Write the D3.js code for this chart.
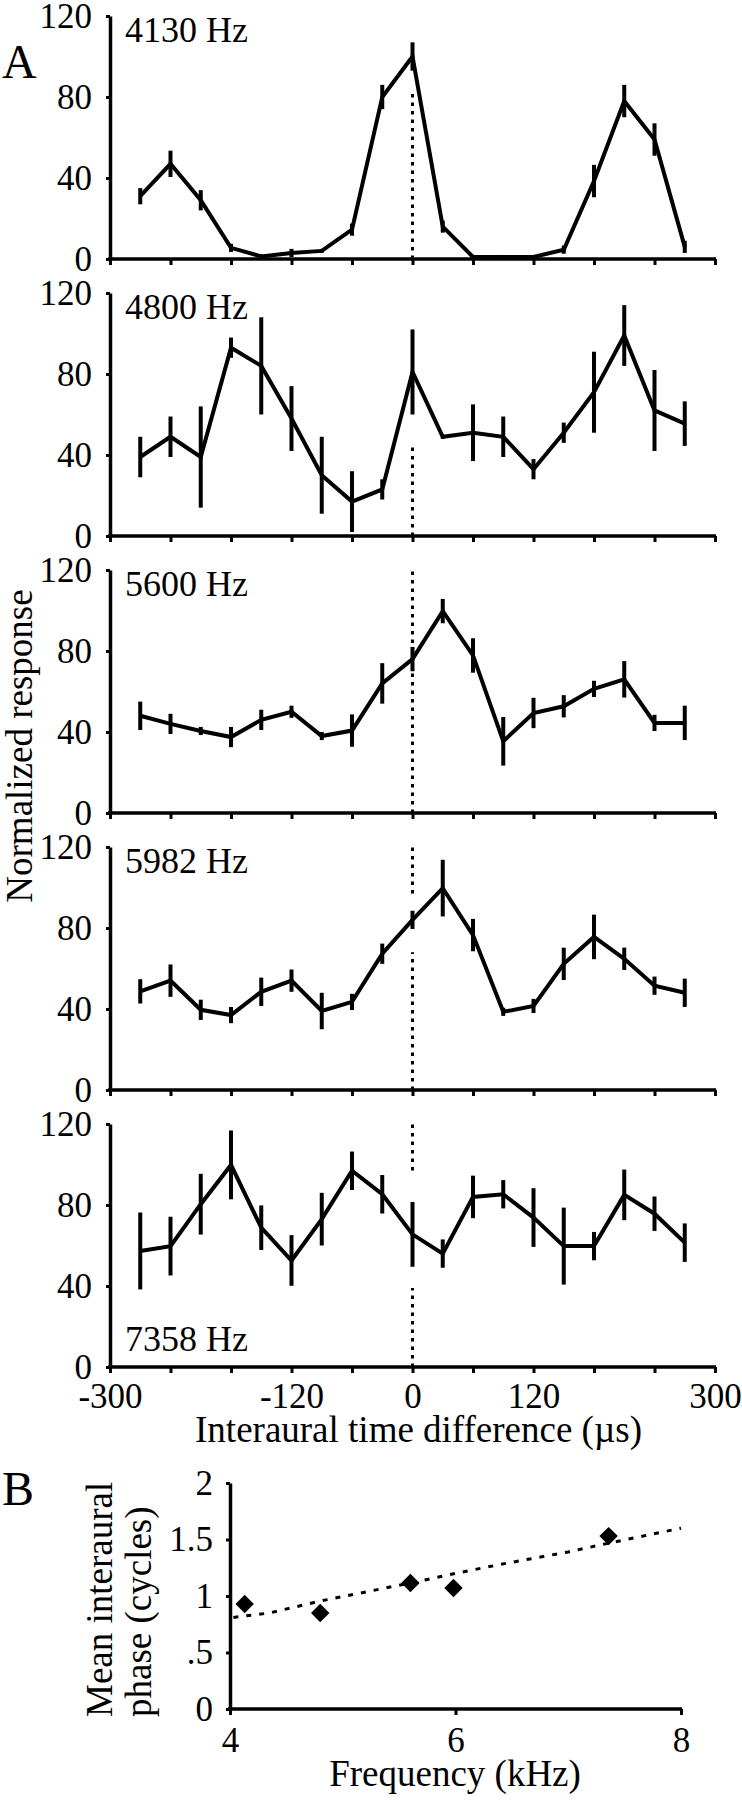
<!DOCTYPE html>
<meta charset="utf-8">
<html>
<body style="margin:0; background-color: white;">
<script src="https://d3js.org/d3.v7.min.js"></script>
<div id="fig"></div>
<script>

// ITD values (us) shared by all tuning curves
var itd = [-270, -240, -210, -180, -150, -120, -90, -60, -30, 0, 30, 60, 90, 120, 150, 180, 210, 240, 270];

var panelNames = ["4130 Hz", "4800 Hz", "5600 Hz", "5982 Hz", "7358 Hz"];

var resp4130 = [31, 47, 29, 5.5, 1.3, 3, 4, 14.5, 80, 100, 16, 1, 1, 1, 4.6, 38.5, 78, 59, 6];
var err4130  = [4, 6.5, 5, 2, 1, 2, 1, 3, 6, 7, 3, 1, 1, 1, 2, 8, 8, 8, 3];

var resp4800 = [39, 49, 39, 93, 84, 58, 30, 17, 23, 81, 49, 51, 49, 33, 51, 71, 99, 62, 55.5];
var err4800  = [10, 10, 25, 5, 24, 16, 19, 15, 5, 21, 1, 14, 10, 5, 5, 20, 15, 20, 11];

var resp5600 = [48, 44, 40.5, 37.5, 46, 50, 38, 40.7, 64, 76, 99.7, 77.8, 35.4, 49.4, 52.7, 61.3, 66, 44.5, 44.5];
var err5600  = [7, 5, 2, 5, 5, 3, 2, 8, 10, 6, 6, 8.5, 12, 7.5, 5.5, 4, 9, 4, 8.5];

var resp5982 = [48.7, 54, 39.6, 37, 48.5, 54, 39, 43.5, 67.3, 84, 99.7, 76.5, 38.6, 41.5, 62.3, 75.6, 64.8, 51.5, 48];
var err5982  = [6, 8, 5, 4, 7, 5.5, 9, 4, 5, 4.5, 14, 8, 2, 3.5, 8, 11, 5.5, 4.5, 7];

var resp7358 = [57.3, 59.7, 80.4, 99.8, 68.8, 52.6, 73, 96.9, 85.3, 65.5, 56, 84, 85.3, 73.8, 59.7, 59.7, 85, 75.7, 61.4];
var err7358  = [19, 14.5, 15, 17, 11, 12.5, 13, 9.5, 9.5, 16, 7, 10.5, 7, 14.5, 19, 7, 12.5, 8.5, 9.5];

// pieces of the dotted 0-us line that are visible in each panel [from, to]
var zeroLine4130 = [[0, 83]];
var zeroLine4800 = [[0, 46]];
var zeroLine5600 = [[0, 120]];
var zeroLine5982 = [[0, 68], [97, 120]];
var zeroLine7358 = [[0, 39], [97, 120]];

var itdTicks = [-300, -240, -180, -120, -60, 0, 60, 120, 180, 240, 300];
var itdLabels = [-300, -120, 0, 120, 300];
var respTicks = [0, 40, 80, 120];

// panel B
var bestFreq = [4.130, 4.800, 5.600, 5.982, 7.358];
var meanPhase = [0.93, 0.85, 1.115, 1.07, 1.53];
var trendFreq = [4.03, 4.35, 4.8, 5.6, 6.0, 6.4, 7.0, 7.37, 8.0];
var trendPhase = [0.81, 0.85, 0.955, 1.115, 1.2, 1.28, 1.39, 1.47, 1.60];
var freqTicks = [4, 6, 8];
var phaseTicks = [0, 0.5, 1, 1.5, 2];
var phaseLabels = ["0", ".5", "1", "1.5", "2"];

var panels = [
  {name: panelNames[0], resp: resp4130, err: err4130, zero: zeroLine4130},
  {name: panelNames[1], resp: resp4800, err: err4800, zero: zeroLine4800},
  {name: panelNames[2], resp: resp5600, err: err5600, zero: zeroLine5600},
  {name: panelNames[3], resp: resp5982, err: err5982, zero: zeroLine5982},
  {name: panelNames[4], resp: resp7358, err: err7358, zero: zeroLine7358}
];

var W = 742, H = 1800;
var font = "Liberation Serif";

var svg = d3.select("#fig").append("svg")
  .attr("width", W).attr("height", H)
  .attr("font-family", font);

var left = 110, right = 715;
var top0 = 16, step = 277, ph = 243;

var x = d3.scaleLinear().domain([-300, 300]).range([left, right]);

function styleAxis(g) {
  g.attr("font-family", font).attr("font-size", 35);
  g.select(".domain").attr("stroke", "black").attr("stroke-width", 3.5);
  g.selectAll(".tick line").attr("stroke", "black").attr("stroke-width", 3);
  g.selectAll(".tick text").attr("fill", "black").attr("font-family", font).attr("font-size", 35);
  g.selectAll(".tick text").filter(function() { return this.textContent == ""; }).remove();
}

function addText(x0, y0, str, size) {
  return svg.append("text")
    .attr("x", x0).attr("y", y0)
    .attr("font-family", font)
    .attr("font-size", size)
    .attr("fill", "black")
    .text(str);
}

panels.forEach(function(p, i) {
  var top = top0 + i * step;
  var y = d3.scaleLinear().domain([0, 120]).range([top + ph, top]);
  var g = svg.append("g");
  var last = (i == panels.length - 1);

  // dotted line at 0 us
  g.selectAll(".zero")
    .data(p.zero)
    .enter().append("line")
      .attr("x1", x(0)).attr("x2", x(0))
      .attr("y1", function(d) { return y(d[0]); })
      .attr("y2", function(d) { return y(d[1]); })
      .attr("stroke", "black")
      .attr("stroke-width", 3)
      .attr("stroke-dasharray", "3.5,5");

  // axes
  var ya = g.append("g")
    .attr("transform", "translate(" + left + ",0)")
    .call(d3.axisLeft(y).tickValues(respTicks).tickSize(4).tickSizeOuter(0).tickPadding(14));
  styleAxis(ya);

  var xa = g.append("g")
    .attr("transform", "translate(0," + (top + ph) + ")")
    .call(d3.axisBottom(x).tickValues(itdTicks).tickSize(6).tickSizeOuter(0).tickPadding(10)
      .tickFormat(function(d) { return (last && itdLabels.indexOf(d) >= 0) ? d : ""; }));
  styleAxis(xa);
  xa.select(".domain").attr("d", "M" + (left - 2) + ",0H" + (right + 1));

  // error bars
  g.selectAll(".err")
    .data(itd)
    .enter().append("line")
      .attr("x1", function(d) { return x(d); })
      .attr("x2", function(d) { return x(d); })
      .attr("y1", function(d, j) { return y(Math.max(0, p.resp[j] - p.err[j])); })
      .attr("y2", function(d, j) { return y(p.resp[j] + p.err[j]); })
      .attr("stroke", "black")
      .attr("stroke-width", 4);

  // tuning curve
  g.append("path")
    .datum(itd)
    .attr("fill", "none")
    .attr("stroke", "black")
    .attr("stroke-width", 4)
    .attr("stroke-linejoin", "miter")
    .attr("d", d3.line()
      .x(function(d) { return x(d); })
      .y(function(d, j) { return y(p.resp[j]); }));

  // frequency label
  addText(left + 15, last ? top + ph - 16 : top + 26, p.name, 36);
});

// panel A titles
addText(2, 78, "A", 48);

addText(0, 0, "Normalized response", 37)
  .attr("transform", "translate(32,746) rotate(-90)")
  .attr("text-anchor", "middle");

addText((left + right) / 2 + 6, 1442, "Interaural time difference (\u00b5s)", 37)
  .attr("text-anchor", "middle");

// panel B
var bx = d3.scaleLinear().domain([4, 8]).range([230, 681]);
var by = d3.scaleLinear().domain([0, 2]).range([1709, 1483]);

var bya = svg.append("g")
  .attr("transform", "translate(230,0)")
  .call(d3.axisLeft(by).tickValues(phaseTicks).tickSize(4).tickSizeOuter(0).tickPadding(13)
    .tickFormat(function(d, j) { return phaseLabels[j]; }));
styleAxis(bya);

var bxa = svg.append("g")
  .attr("transform", "translate(0,1709)")
  .call(d3.axisBottom(bx).tickValues(freqTicks).tickSize(6).tickSizeOuter(0).tickPadding(12)
    .tickFormat(d3.format("d")));
styleAxis(bxa);
bxa.select(".domain").attr("d", "M228,0H682");

svg.append("path")
  .datum(trendFreq)
  .attr("fill", "none")
  .attr("stroke", "black")
  .attr("stroke-width", 3)
  .attr("stroke-dasharray", "5,8")
  .attr("d", d3.line()
    .x(function(d) { return bx(d); })
    .y(function(d, j) { return by(trendPhase[j]); }));

svg.selectAll(".pt")
  .data(bestFreq)
  .enter().append("path")
    .attr("d", d3.symbol(d3.symbolSquare, 170))
    .attr("transform", function(d, j) {
      return "translate(" + bx(d) + "," + by(meanPhase[j]) + ") rotate(45)";
    })
    .attr("fill", "black");

addText(2, 1505, "B", 48);

addText(0, 0, "Mean interaural", 37)
  .attr("transform", "translate(112,1717) rotate(-90)");

addText(0, 0, "phase (cycles)", 37)
  .attr("transform", "translate(151,1717) rotate(-90)");

addText(455, 1786, "Frequency (kHz)", 37)
  .attr("text-anchor", "middle");

</script>
</body>
</html>
